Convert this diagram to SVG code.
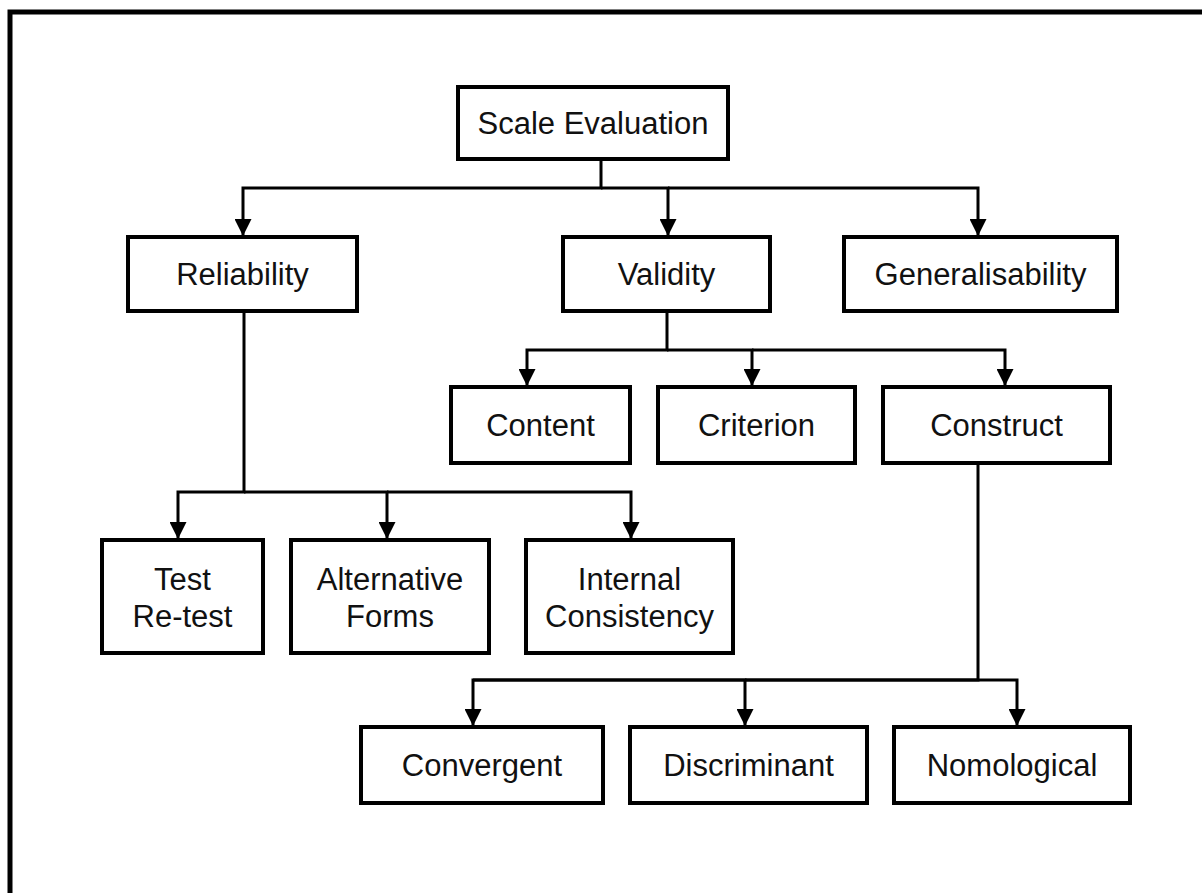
<svg xmlns="http://www.w3.org/2000/svg" width="1202" height="893" viewBox="0 0 1202 893">
<defs>
<style>
.box{fill:#fff;stroke:#000;stroke-width:4}
.lbl{font-family:"Liberation Sans",Arial,sans-serif;font-size:31px;fill:#111;text-anchor:middle}
.con{fill:none;stroke:#000;stroke-width:3;marker-end:url(#ah)}
.frame{fill:none;stroke:#000;stroke-width:5}
</style>
<marker id="ah" markerUnits="userSpaceOnUse" markerWidth="18" markerHeight="17" refX="17" refY="8.5" orient="auto">
<path d="M0,0 L17,8.5 L0,17 z" fill="#000"/>
</marker>
</defs>
<rect width="1202" height="893" fill="#fff"/>
<path class="frame" d="M10,893 V12 H1202"/>
<g id="connectors">
<path class="con" d="M601,159 V188 H243 V236"/>
<path class="con" d="M601,188 H668 V236"/>
<path class="con" d="M668,188 H978 V236"/>
<path class="con" d="M244,311 V492 H178 V539"/>
<path class="con" d="M244,492 H387 V539"/>
<path class="con" d="M387,492 H631 V539"/>
<path class="con" d="M667,311 V350 H527 V386"/>
<path class="con" d="M667,350 H752 V386"/>
<path class="con" d="M752,350 H1005 V386"/>
<path class="con" d="M978,463 V680 H473 V726"/>
<path class="con" d="M473,680 H745 V726"/>
<path class="con" d="M745,680 H1017 V726"/>
</g>
<g id="scale-evaluation"><rect class="box" x="458" y="87" width="270" height="72"/><text class="lbl" x="593" y="134">Scale Evaluation</text></g>
<g id="reliability"><rect class="box" x="128" y="237" width="229" height="74"/><text class="lbl" x="242.5" y="285">Reliability</text></g>
<g id="validity"><rect class="box" x="563" y="237" width="207" height="74"/><text class="lbl" x="666.5" y="285">Validity</text></g>
<g id="generalisability"><rect class="box" x="844" y="237" width="273" height="74"/><text class="lbl" x="980.5" y="285">Generalisability</text></g>
<g id="content"><rect class="box" x="451" y="387" width="179" height="76"/><text class="lbl" x="540.5" y="436">Content</text></g>
<g id="criterion"><rect class="box" x="658" y="387" width="197" height="76"/><text class="lbl" x="756.5" y="436">Criterion</text></g>
<g id="construct"><rect class="box" x="883" y="387" width="227" height="76"/><text class="lbl" x="996.5" y="436">Construct</text></g>
<g id="test-retest"><rect class="box" x="102" y="540" width="161" height="113"/><text class="lbl" x="182.5" y="590">Test</text><text class="lbl" x="182.5" y="627">Re-test</text></g>
<g id="alternative-forms"><rect class="box" x="291" y="540" width="198" height="113"/><text class="lbl" x="390" y="590">Alternative</text><text class="lbl" x="390" y="627">Forms</text></g>
<g id="internal-consistency"><rect class="box" x="526" y="540" width="207" height="113"/><text class="lbl" x="629.5" y="590">Internal</text><text class="lbl" x="629.5" y="627">Consistency</text></g>
<g id="convergent"><rect class="box" x="361" y="727" width="242" height="76"/><text class="lbl" x="482" y="776">Convergent</text></g>
<g id="discriminant"><rect class="box" x="630" y="727" width="237" height="76"/><text class="lbl" x="748.5" y="776">Discriminant</text></g>
<g id="nomological"><rect class="box" x="894" y="727" width="236" height="76"/><text class="lbl" x="1012" y="776">Nomological</text></g>
</svg>
